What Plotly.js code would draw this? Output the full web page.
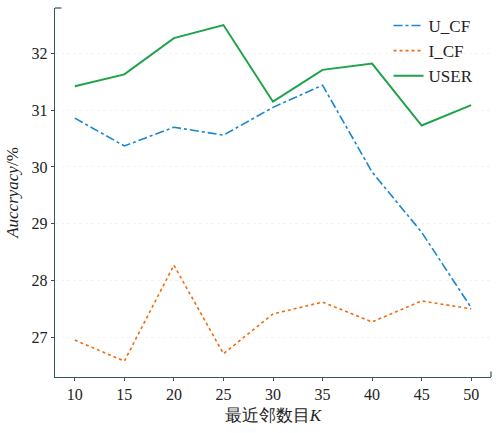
<!DOCTYPE html>
<html>
<head>
<meta charset="utf-8">
<script src="https://cdn.plot.ly/plotly-3.0.1.min.js"></script>
<style>body{margin:0;padding:0;background:#fff}#chart{width:503px;height:433px}</style>
</head>
<body>
<div id="chart"></div>
<script>
var kValues = [10, 15, 20, 25, 30, 35, 40, 45, 50];
var uCF = [30.86, 30.37, 30.70, 30.56, 31.05, 31.44, 29.91, 28.85, 27.52];
var iCF = [26.95, 26.58, 28.27, 26.71, 27.41, 27.62, 27.27, 27.64, 27.50];
var user = [31.42, 31.63, 32.27, 32.50, 31.15, 31.71, 31.82, 30.73, 31.09];
var seriesNames = ['U_CF', 'I_CF', 'USER'];

var serif = 'serif';
var axisColor = '#35545a';
var traces = [
  {x: kValues, y: uCF, name: seriesNames[0], mode: 'lines', line: {color: '#1a86d0', width: 1.6, dash: 'dashdot'}},
  {x: kValues, y: iCF, name: seriesNames[1], mode: 'lines', line: {color: '#f26a10', width: 1.6, dash: 'dot'}},
  {x: kValues, y: user, name: seriesNames[2], mode: 'lines', line: {color: '#1ea24a', width: 2}}
];
var layout = {
  width: 503, height: 433,
  margin: {l: 55, r: 12, t: 8, b: 56},
  paper_bgcolor: '#fff', plot_bgcolor: '#fff',
  font: {family: serif, size: 16, color: '#222'},
  showlegend: true,
  legend: {x: 0.765, y: 1.0, xanchor: 'left', yanchor: 'top', bgcolor: 'rgba(0,0,0,0)', font: {size: 17, family: serif}, tracegroupgap: 0, itemwidth: 30},
  xaxis: {
    range: [8, 52], tickvals: kValues, ticks: 'outside', ticklen: 3, tickcolor: axisColor,
    tickfont: {family: serif, size: 16},
    showline: true, linecolor: axisColor, linewidth: 1.2, showgrid: false, zeroline: false,
    title: {text: '最近邻数目<i>K</i>', font: {size: 17, family: serif}, standoff: 6}
  },
  yaxis: {
    range: [26.3, 32.8], tickvals: [27, 28, 29, 30, 31, 32], ticks: 'outside', ticklen: 3, tickcolor: axisColor,
    tickfont: {family: serif, size: 16},
    showline: true, linecolor: axisColor, linewidth: 1.2, showgrid: true, gridcolor: '#f4f4f4', griddash: 'dot', zeroline: false,
    title: {text: '<i>Auccryacy</i>/%', font: {size: 17, family: serif}, standoff: 8}
  },
  shapes: [
    {type: 'line', xref: 'paper', yref: 'paper', x0: 1, x1: 1, y0: 0, y1: 0.015, line: {color: axisColor, width: 1.2}},
    {type: 'line', xref: 'paper', yref: 'paper', x0: 0, x1: 0.015, y0: 1, y1: 1, line: {color: axisColor, width: 1.2}}
  ]
};
Plotly.newPlot('chart', traces, layout, {displayModeBar: false, staticPlot: true});
</script>
</body>
</html>
